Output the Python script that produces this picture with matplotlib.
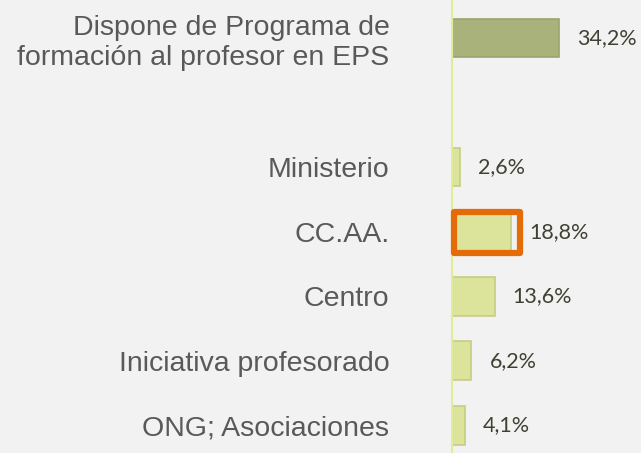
import matplotlib.pyplot as plt
from matplotlib.patches import Rectangle

# ======================= DATA ==========================
labels = ["Dispone de Programa de\nformación al profesor en EPS",
          "Ministerio", "CC.AA.", "Centro",
          "Iniciativa profesorado", "ONG; Asociaciones"]
values = [34.2, 2.6, 18.8, 13.6, 6.2, 4.1]
value_labels = ["34,2%", "2,6%", "18,8%", "13,6%", "6,2%", "4,1%"]
highlight = "CC.AA."
# =======================================================

# first row is separated from the rest by an empty slot
positions = [0] + [i + 1 for i in range(1, len(values))]
colors = ["#A9B27A"] + ["#DCE39A"] * (len(values) - 1)
edges = ["#9AA46C"] + ["#C6CD86"] * (len(values) - 1)

bg = "#F2F2F2"
fig = plt.figure(figsize=(6.41, 4.53), dpi=100, facecolor=bg)
ax = fig.add_axes([452 / 641, 0, 189 / 641, 1])
ax.set_facecolor(bg)

ax.barh(positions, values, height=0.6, color=colors, edgecolor=edges, linewidth=1.2)
ax.set_xlim(0, 60.4)
ax.set_ylim(6.43, -0.59)

for s in ["top", "right", "bottom"]:
    ax.spines[s].set_visible(False)
ax.spines["left"].set_color("#E2EA9C")
ax.spines["left"].set_linewidth(1.5)
ax.set_xticks([])
ax.set_yticks(positions)
ax.set_yticklabels(labels, fontsize=20.5, color="#595959", family="Liberation Sans",
                   linespacing=1.2)
ax.tick_params(axis="y", length=0, pad=45)

for p, v, t in zip(positions, values, value_labels):
    ax.annotate(t, (v, p), xytext=(13, 0), textcoords="offset points",
                va="center", ha="left", fontsize=15.5, color="#3F4232", family="Lato")

# orange highlight box around the selected bar
i = labels.index(highlight)
ax.add_patch(Rectangle((0.6, positions[i] - 0.3), values[i] + 2.2, 0.63,
                       fill=False, edgecolor="#E36C09", linewidth=4.5,
                       joinstyle="round", clip_on=False, zorder=5))

plt.savefig("out.png", dpi=100, facecolor=bg)
